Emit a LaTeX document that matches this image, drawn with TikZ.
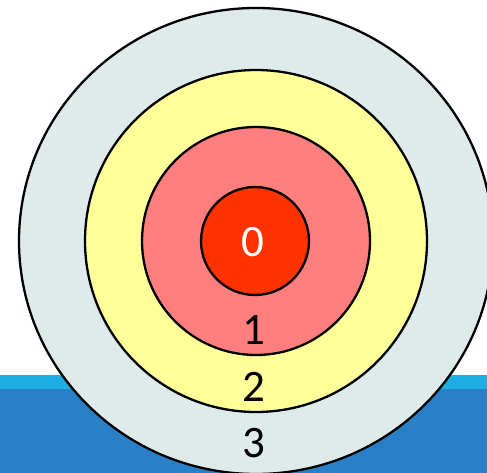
\documentclass[tikz,border=0pt]{standalone}
\usepackage{fontspec}
\setmainfont{Carlito}
\usetikzlibrary{shapes.geometric}
\definecolor{lightband}{HTML}{1FAEE4}
\definecolor{darkband}{HTML}{2A80C6}
\definecolor{ring3}{HTML}{DFEBEB}
\definecolor{ring2}{HTML}{FFFF99}
\definecolor{ring1}{HTML}{FF7F7F}
\definecolor{ring0}{HTML}{FF3300}
\tikzset{
  ring/.style={circle, draw=black, line width=2.3pt, inner sep=0pt},
  lab/.style={font=\fontsize{45}{45}\selectfont, inner sep=0pt, anchor=center}
}
\begin{document}
\begin{tikzpicture}[x=1pt,y=-1pt]
\useasboundingbox (0,0) rectangle (487,473);
\begin{scope}
\clip (0,0) rectangle (487,473);
\fill[lightband] (0,375) rectangle (487,389);
\fill[darkband] (0,389) rectangle (487,473);
\node[ring, ellipse, fill=ring3, minimum width=474pt, minimum height=466pt] (r3) at (256,241) {};
\node[ring, fill=ring2, minimum size=342pt] (r2) at (256,241) {};
\node[ring, fill=ring1, minimum size=228pt] (r1) at (256,241) {};
\node[ring, fill=ring0, minimum size=108pt] (r0) at (255,241) {};
\end{scope}
\node[lab, text=white] (l0) at (253,242) {0};
\node[lab] (l1) at (254,330) {1};
\node[lab] (l2) at (254,387) {2};
\node[lab] (l3) at (254,443) {3};
\end{tikzpicture}
\end{document}
